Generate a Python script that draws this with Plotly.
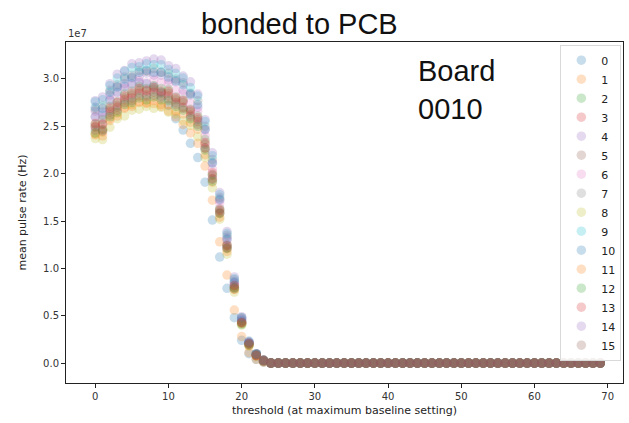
import plotly.graph_objects as go

# Threshold scan: mean pulse rate per channel (values in units of 1e7 Hz)
thresholds = list(range(70))
channel_names = [str(i) for i in range(16)]

# Above threshold 23 every channel reads zero
zero_tail = [0.0] * 46

rates = {
    "0": [2.60, 2.62, 2.78, 2.86, 2.92, 2.95, 2.96, 2.95, 2.92, 2.86, 2.72, 2.58, 2.46, 2.32, 2.17, 1.91, 1.51, 1.12, 0.79, 0.48, 0.24, 0.10, 0.04, 0.01] + zero_tail,
    "1": [2.42, 2.44, 2.58, 2.64, 2.70, 2.73, 2.75, 2.75, 2.74, 2.71, 2.66, 2.60, 2.52, 2.43, 2.32, 2.08, 1.72, 1.28, 0.93, 0.56, 0.28, 0.11, 0.04, 0.01] + zero_tail,
    "2": [2.52, 2.57, 2.71, 2.76, 2.84, 2.87, 2.92, 2.90, 2.93, 2.90, 2.89, 2.81, 2.78, 2.68, 2.61, 2.36, 1.99, 1.62, 1.24, 0.80, 0.43, 0.19, 0.08, 0.02] + zero_tail,
    "3": [2.50, 2.47, 2.65, 2.70, 2.78, 2.80, 2.85, 2.83, 2.86, 2.82, 2.82, 2.75, 2.70, 2.62, 2.55, 2.27, 1.95, 1.58, 1.21, 0.78, 0.42, 0.19, 0.08, 0.02] + zero_tail,
    "4": [2.66, 2.65, 2.83, 2.91, 2.95, 3.01, 3.02, 3.06, 3.04, 3.04, 2.99, 2.97, 2.88, 2.83, 2.70, 2.46, 2.12, 1.72, 1.33, 0.86, 0.47, 0.22, 0.10, 0.03] + zero_tail,
    "5": [2.49, 2.53, 2.67, 2.72, 2.80, 2.83, 2.88, 2.87, 2.89, 2.85, 2.85, 2.78, 2.75, 2.65, 2.57, 2.31, 1.98, 1.63, 1.25, 0.82, 0.44, 0.21, 0.09, 0.03] + zero_tail,
    "6": [2.60, 2.59, 2.77, 2.82, 2.90, 2.93, 2.98, 2.96, 2.99, 2.96, 2.95, 2.88, 2.84, 2.74, 2.66, 2.40, 2.05, 1.69, 1.30, 0.84, 0.46, 0.21, 0.08, 0.02] + zero_tail,
    "7": [2.68, 2.72, 2.88, 2.94, 3.02, 3.04, 3.09, 3.08, 3.11, 3.07, 3.06, 3.00, 2.96, 2.85, 2.77, 2.50, 2.15, 1.75, 1.35, 0.88, 0.48, 0.22, 0.10, 0.03] + zero_tail,
    "8": [2.37, 2.36, 2.49, 2.58, 2.61, 2.67, 2.68, 2.71, 2.69, 2.70, 2.65, 2.63, 2.56, 2.51, 2.39, 2.17, 1.85, 1.52, 1.15, 0.75, 0.40, 0.18, 0.07, 0.02] + zero_tail,
    "9": [2.76, 2.78, 2.93, 3.01, 3.08, 3.12, 3.13, 3.16, 3.15, 3.15, 3.10, 3.06, 3.01, 2.91, 2.82, 2.55, 2.19, 1.78, 1.37, 0.89, 0.48, 0.23, 0.10, 0.03] + zero_tail,
    "10": [2.70, 2.69, 2.86, 2.92, 3.00, 3.02, 3.07, 3.09, 3.07, 3.07, 3.02, 2.98, 2.94, 2.84, 2.73, 2.47, 2.11, 1.73, 1.31, 0.85, 0.45, 0.21, 0.09, 0.02] + zero_tail,
    "11": [2.41, 2.40, 2.56, 2.61, 2.69, 2.71, 2.76, 2.74, 2.77, 2.73, 2.73, 2.66, 2.63, 2.54, 2.47, 2.20, 1.91, 1.54, 1.18, 0.78, 0.42, 0.19, 0.08, 0.02] + zero_tail,
    "12": [2.43, 2.46, 2.60, 2.65, 2.73, 2.75, 2.80, 2.78, 2.81, 2.78, 2.77, 2.71, 2.67, 2.58, 2.50, 2.25, 1.92, 1.58, 1.21, 0.79, 0.41, 0.20, 0.09, 0.03] + zero_tail,
    "13": [2.53, 2.52, 2.69, 2.75, 2.82, 2.85, 2.90, 2.88, 2.91, 2.87, 2.87, 2.80, 2.77, 2.67, 2.59, 2.33, 2.01, 1.61, 1.24, 0.82, 0.43, 0.21, 0.08, 0.03] + zero_tail,
    "14": [2.77, 2.81, 2.95, 3.05, 3.09, 3.16, 3.17, 3.19, 3.21, 3.20, 3.14, 3.11, 3.03, 2.97, 2.84, 2.57, 2.22, 1.80, 1.39, 0.91, 0.49, 0.23, 0.10, 0.03] + zero_tail,
    "15": [2.46, 2.45, 2.62, 2.67, 2.75, 2.77, 2.82, 2.81, 2.83, 2.80, 2.79, 2.73, 2.69, 2.60, 2.52, 2.27, 1.94, 1.59, 1.22, 0.80, 0.43, 0.20, 0.09, 0.03] + zero_tail,
}

# Default ten-colour cycle, repeated for channels 10-15
palette = ["#1f77b4", "#ff7f0e", "#2ca02c", "#d62728", "#9467bd",
           "#8c564b", "#e377c2", "#7f7f7f", "#bcbd22", "#17becf"]

fig = go.Figure()
for i, name in enumerate(channel_names):
    fig.add_trace(go.Scatter(
        x=thresholds,
        y=rates[name],
        mode="markers",
        name=name,
        marker=dict(size=9.5, color=palette[i % len(palette)], opacity=0.25,
                    line=dict(width=0)),
    ))

axis_font = dict(family="DejaVu Sans", size=10, color="#333333")

fig.update_layout(
    width=629,
    height=423,
    margin=dict(l=66, r=6, t=42, b=40),
    paper_bgcolor="white",
    plot_bgcolor="white",
    showlegend=True,
    legend=dict(
        x=0.997, y=0.992, xanchor="right", yanchor="top",
        bgcolor="rgba(255,255,255,0.9)",
        bordercolor="#d9d9d9", borderwidth=1,
        font=dict(family="DejaVu Sans", size=11, color="#222222"),
        itemwidth=30,
        tracegroupgap=0,
    ),
    xaxis=dict(
        range=[-4.0, 72.1],
        tickvals=[0, 10, 20, 30, 40, 50, 60, 70],
        ticks="outside", ticklen=4, tickcolor="#222222",
        showline=True, linecolor="#222222", linewidth=1, mirror=True,
        showgrid=False, zeroline=False,
        tickfont=axis_font,
        title=dict(text="threshold (at maximum baseline setting)",
                   font=dict(family="DejaVu Sans", size=11, color="#222222"),
                   standoff=5),
    ),
    yaxis=dict(
        range=[-0.21, 3.39],
        tickvals=[0, 0.5, 1.0, 1.5, 2.0, 2.5, 3.0],
        tickformat=".1f",
        ticks="outside", ticklen=4, tickcolor="#222222",
        showline=True, linecolor="#222222", linewidth=1, mirror=True,
        showgrid=False, zeroline=False,
        tickfont=axis_font,
        title=dict(text="mean pulse rate (Hz)",
                   font=dict(family="DejaVu Sans", size=11, color="#222222"),
                   standoff=14),
    ),
    annotations=[
        dict(text="1e7", xref="paper", yref="paper", x=0, y=1.0,
             xanchor="left", yanchor="bottom", yshift=1, showarrow=False,
             font=dict(family="DejaVu Sans", size=10, color="#333333")),
        dict(text="bonded to PCB", xref="paper", yref="paper", x=0.42, y=1.0,
             xanchor="center", yanchor="bottom", yshift=0, showarrow=False,
             font=dict(family="Liberation Sans", size=29, color="#111111")),
        dict(text="Board<br>0010", xref="x", yref="y", x=43.8, y=3.27,
             xanchor="left", yanchor="top", align="left", showarrow=False,
             font=dict(family="Liberation Sans", size=29, color="#111111")),
    ],
)

fig.write_html("out.html")
